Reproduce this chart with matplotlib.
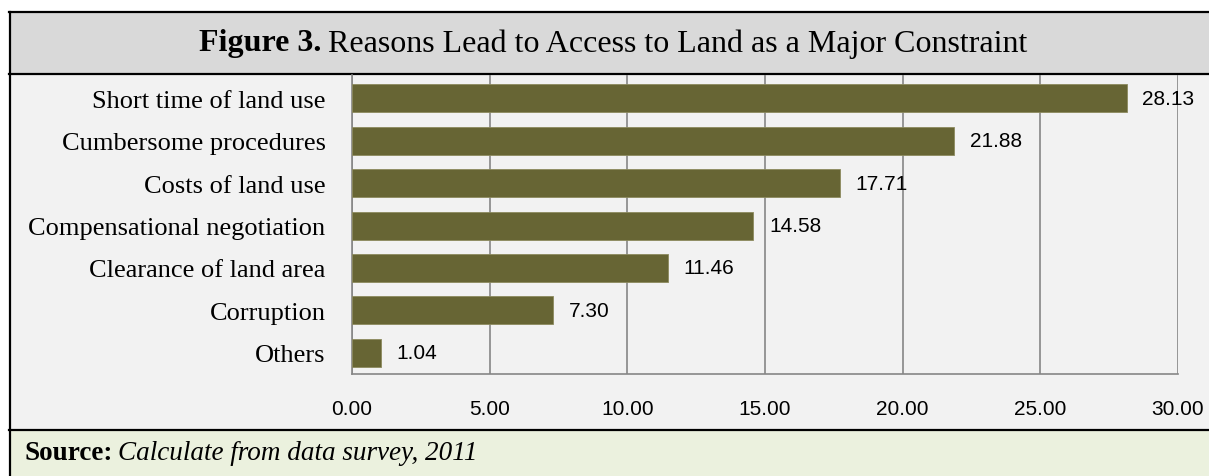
import matplotlib
matplotlib.use("Agg")
import matplotlib.pyplot as plt
from matplotlib.patches import Rectangle
from matplotlib.lines import Line2D

# Survey shares (%) of reasons behind land access constraints
reasons = ["Short time of land use", "Cumbersome procedures", "Costs of land use",
           "Compensational negotiation", "Clearance of land area", "Corruption", "Others"]
shares = [28.13, 21.88, 17.71, 14.58, 11.46, 7.30, 1.04]
xticks = [0, 5, 10, 15, 20, 25, 30]

W, H = 1209, 477
fig = plt.figure(figsize=(W / 100, H / 100), dpi=100)

def fx(px):
    return px / W

def fy(py):
    return 1 - py / H

# background panels: title, chart area, source note
fig.patches.append(Rectangle((fx(9), fy(75)), fx(W), fy(13) - fy(75),
                             transform=fig.transFigure, facecolor="#d9d9d9", edgecolor="none", zorder=-2))
fig.patches.append(Rectangle((fx(9), fy(431)), fx(W), fy(75) - fy(431),
                             transform=fig.transFigure, facecolor="#f2f2f2", edgecolor="none", zorder=-2))
fig.patches.append(Rectangle((fx(9), 0), fx(W), fy(431),
                             transform=fig.transFigure, facecolor="#ebf1de", edgecolor="none", zorder=-2))

# frame lines
for y in (13, 75, 431):
    fig.add_artist(Line2D([fx(9), 1], [fy(y), fy(y)], transform=fig.transFigure, color="black", lw=1.6))
fig.add_artist(Line2D([fx(9.5), fx(9.5)], [fy(13), 0], transform=fig.transFigure, color="black", lw=1.6))

# title: bold figure number followed by regular text
t1 = fig.text(fx(199), fy(44), "Figure 3.", family="Liberation Serif", fontweight="bold",
              fontsize=23, va="center", ha="left")
fig.canvas.draw()
bb = t1.get_window_extent(fig.canvas.get_renderer())
fig.text(bb.x1 / W + fx(7), fy(44), "Reasons Lead to Access to Land as a Major Constraint",
         family="Liberation Serif", fontsize=23, va="center", ha="left")

# source note
s1 = fig.text(fx(24), fy(454), "Source:", family="Liberation Serif", fontweight="bold",
              fontsize=19.5, va="center", ha="left")
fig.canvas.draw()
bb = s1.get_window_extent(fig.canvas.get_renderer())
fig.text(bb.x1 / W + fx(6), fy(454), "Calculate from data survey, 2011",
         family="Liberation Serif", style="italic", fontsize=19.5, va="center", ha="left")

# bar chart
ax = fig.add_axes([fx(352), fy(375), fx(1178 - 352), (375 - 76) / H])
ax.set_zorder(2)
ax.set_facecolor("none")
ypos = list(range(len(reasons)))
ax.barh(ypos, shares, height=0.66, color="#676534", edgecolor="#8c8a5e", linewidth=0.6, zorder=3)
for y, v in zip(ypos, shares):
    ax.text(v + 0.58, y, f"{v:.2f}", va="center", ha="left",
            family="Liberation Sans", fontsize=15, zorder=4)

ax.set_xlim(0, 30)
ax.set_ylim(len(reasons) - 0.5, -0.55)
ax.set_xticks(xticks)
ax.set_xticklabels([f"{t:.2f}" for t in xticks], family="Liberation Sans", fontsize=15)
ax.set_yticks(ypos)
ax.set_yticklabels(reasons, family="Liberation Serif", fontsize=19)
ax.tick_params(axis="x", length=0, pad=18)
ax.tick_params(axis="y", length=0, pad=19)
ax.grid(axis="x", color="#868686", lw=1.2, zorder=1)
for side in ("top", "right"):
    ax.spines[side].set_visible(False)
for side in ("left", "bottom"):
    ax.spines[side].set_color("#868686")
    ax.spines[side].set_linewidth(1.2)

fig.savefig("out.png", dpi=100)
